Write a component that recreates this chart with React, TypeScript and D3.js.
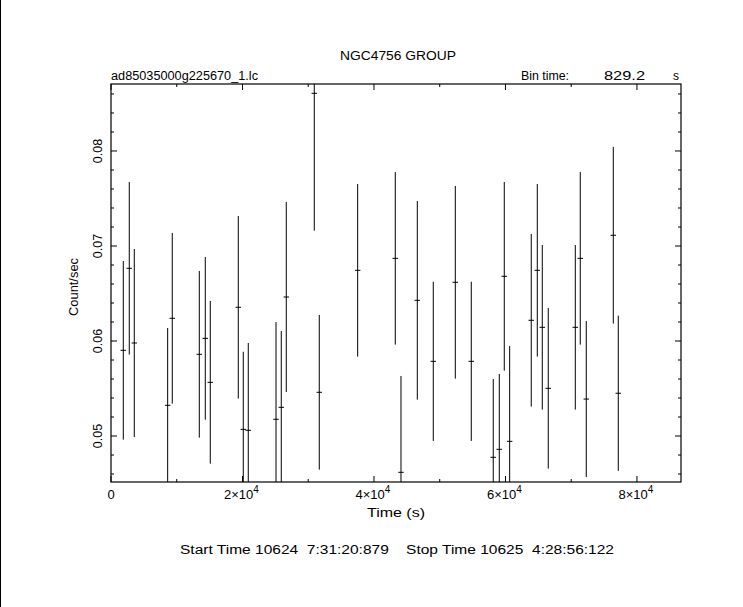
import React from "react";
import * as d3 from "d3";

const W = 743;
const H = 607;

const times = [1870, 2780, 3540, 8620, 9320, 13430, 14340, 15100, 19360, 20120, 20880, 25100, 25900, 26660,
  30920, 31680, 37520, 43240, 44110, 46590, 49020, 52370, 54800,
  58140, 59060, 59820, 60640, 63920, 64840, 65600, 66510, 70620, 71380, 72290, 76400, 77160];
const rates = [0.05902, 0.06765, 0.05979, 0.05323, 0.06239, 0.0586, 0.06028, 0.05565, 0.06355, 0.0507, 0.0506, 0.05176, 0.05302, 0.06463,
  0.08607, 0.0546, 0.06744, 0.0687, 0.04618, 0.06428, 0.05786, 0.06618, 0.05786,
  0.04776, 0.0486, 0.06681, 0.04944, 0.06218, 0.06744, 0.06144, 0.05502, 0.06144, 0.0687, 0.05389, 0.07113, 0.0545];
const errors = [0.0094, 0.00908, 0.00989, 0.00814, 0.00898, 0.00877, 0.00856, 0.00856, 0.00961, 0.00817, 0.00919, 0.01024, 0.00803, 0.01,
  0.01446, 0.00814, 0.00908, 0.00908, 0.01014, 0.01045, 0.00838, 0.01014, 0.00838,
  0.00824, 0.00793, 0.00993, 0.01003, 0.00908, 0.00908, 0.00866, 0.00845, 0.00866, 0.00908, 0.00821, 0.0093, 0.00817];

const binTime = 829.2;
const xMajorTicks = [0, 20000, 40000, 60000, 80000];
const xMinorTicks = [10000, 30000, 50000, 70000];
const xTickLabels = ["0", "2×10|4", "4×10|4", "6×10|4", "8×10|4"];
const yMajorTicks = [0.05, 0.06, 0.07, 0.08];
const yMinorTicks = [0.046, 0.048, 0.052, 0.054, 0.056, 0.058, 0.062, 0.064, 0.066, 0.068, 0.072, 0.074, 0.076, 0.078, 0.082, 0.084, 0.086];
const yTickLabels = ["0.05", "0.06", "0.07", "0.08"];

const title = "NGC4756 GROUP";
const fileName = "ad85035000g225670_1.lc";
const xLabel = "Time (s)";
const yLabel = "Count/sec";
const footer = "Start Time 10624  7:31:20:879    Stop Time 10625  4:28:56:122";

const L = 111, R = 681, T = 84, B = 482;
const FONT = "'Liberation Sans', Arial, sans-serif";

export default function App() {
  const x = d3.scaleLinear().domain([0, 86700]).range([L, R]);
  const y = d3.scaleLinear().domain([0.04516, 0.08705]).range([B, T]);
  const clipY = (v: number) => Math.max(T, Math.min(B, v));
  const majLen = 6, minLen = 3;

  return (
    <div style={{ position: "absolute", left: 0, top: 0 }}>
      <svg width={W} height={H} style={{ display: "block", background: "#fff" }} fontFamily={FONT}>
        <rect x={0} y={0} width={W} height={H} fill="#fff" />
        <line x1={0.5} x2={0.5} y1={0} y2={H} stroke="#000" strokeWidth={1} />
        {/* frame */}
        <rect x={L} y={T} width={R - L} height={B - T} fill="none" stroke="#000" strokeWidth={1.2} />
        {/* x ticks */}
        {xMajorTicks.map((t, i) => (
          <g key={"xm" + i}>
            <line x1={x(t)} x2={x(t)} y1={B} y2={B - majLen} stroke="#000" />
            <line x1={x(t)} x2={x(t)} y1={T} y2={T + majLen} stroke="#000" />
          </g>
        ))}
        {xMinorTicks.map((t, i) => (
          <g key={"xn" + i}>
            <line x1={x(t)} x2={x(t)} y1={B} y2={B - minLen} stroke="#000" />
            <line x1={x(t)} x2={x(t)} y1={T} y2={T + minLen} stroke="#000" />
          </g>
        ))}
        {/* y ticks */}
        {yMajorTicks.map((t, i) => (
          <g key={"ym" + i}>
            <line x1={L} x2={L + majLen} y1={y(t)} y2={y(t)} stroke="#000" />
            <line x1={R} x2={R - majLen} y1={y(t)} y2={y(t)} stroke="#000" />
          </g>
        ))}
        {yMinorTicks.map((t, i) => (
          <g key={"yn" + i}>
            <line x1={L} x2={L + minLen} y1={y(t)} y2={y(t)} stroke="#000" />
            <line x1={R} x2={R - minLen} y1={y(t)} y2={y(t)} stroke="#000" />
          </g>
        ))}
        {/* data */}
        {times.map((t, i) => {
          const cx = x(t);
          const cy = y(rates[i]);
          return (
            <g key={"p" + i} stroke="#000" strokeWidth={1}>
              <line x1={cx} x2={cx} y1={clipY(y(rates[i] + errors[i]))} y2={clipY(y(rates[i] - errors[i]))} />
              {cy >= T && cy <= B && (
                <line x1={x(t - binTime / 2)} x2={x(t + binTime / 2)} y1={cy} y2={cy} />
              )}
            </g>
          );
        })}
        {/* x tick labels */}
        {xTickLabels.map((lab, i) => {
          const parts = lab.split("|");
          return (
            <text key={"xl" + i} x={x(xMajorTicks[i]) - (parts[1] ? 1 : 0)} y={499} fontSize={13} textAnchor="middle" fill="#000">
              {parts[0]}
              {parts[1] && (
                <tspan fontSize={10} dy={-6}>{parts[1]}</tspan>
              )}
            </text>
          );
        })}
        {/* y tick labels */}
        {yTickLabels.map((lab, i) => (
          <text key={"yl" + i} transform={`translate(102,${y(yMajorTicks[i])}) rotate(-90)`} fontSize={12.5} textAnchor="middle" fill="#000">
            {lab}
          </text>
        ))}
        <text x={398} y={60} fontSize={12.5} textAnchor="middle" textLength={116} lengthAdjust="spacingAndGlyphs">{title}</text>
        <text x={111} y={80} fontSize={12} textLength={147} lengthAdjust="spacingAndGlyphs">{fileName}</text>
        <text x={521} y={80} fontSize={12} textLength={48} lengthAdjust="spacingAndGlyphs">Bin time:</text>
        <text x={604} y={80} fontSize={12} textLength={41} lengthAdjust="spacingAndGlyphs">{binTime.toFixed(1)}</text>
        <text x={673} y={80} fontSize={12}>s</text>
        <text x={396} y={517} fontSize={12.5} textAnchor="middle" textLength={58} lengthAdjust="spacingAndGlyphs">{xLabel}</text>
        <text transform={`translate(78,287) rotate(-90)`} fontSize={12.5} textAnchor="middle" textLength={58} lengthAdjust="spacingAndGlyphs">{yLabel}</text>
        <text x={180} y={554} fontSize={12} textLength={434} lengthAdjust="spacingAndGlyphs" style={{ whiteSpace: "pre" }}>{footer}</text>
      </svg>
    </div>
  );
}
